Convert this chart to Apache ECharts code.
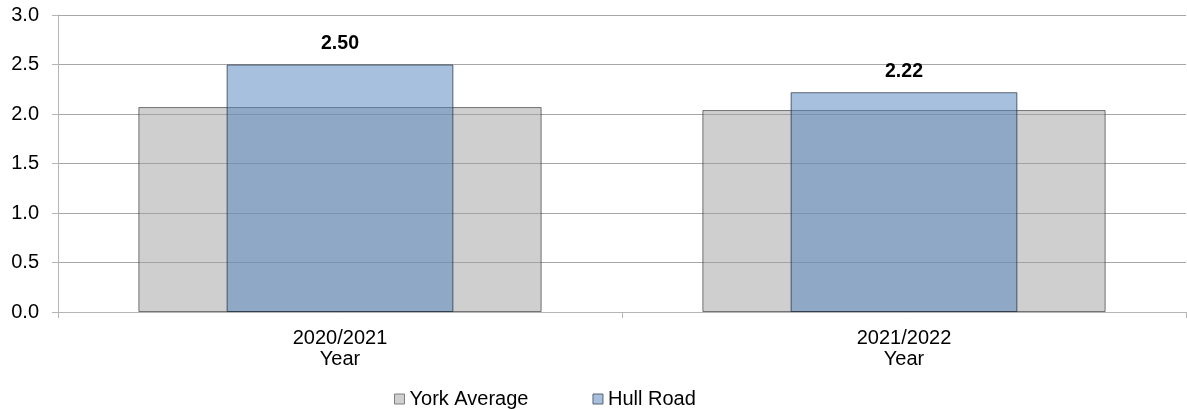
<!DOCTYPE html>
<html>
<head>
<meta charset="utf-8">
<script src="https://cdn.jsdelivr.net/npm/echarts@6/dist/echarts.min.js"></script>
<style>
html,body{margin:0;padding:0;background:#fff;}
#chart{width:1187px;height:409px;}
</style>
</head>
<body>
<div id="chart"></div>
<script>
const categories = ['2020/2021\nYear', '2021/2022\nYear'];
const seriesNames = ['York Average', 'Hull Road'];
const yorkAverage = [2.07, 2.04];
const hullRoad = [2.50, 2.22];
const yMin = 0, yMax = 3, yInterval = 0.5;

const font = 'Liberation Sans, Arial, sans-serif';
const chart = echarts.init(document.getElementById('chart'));
chart.setOption({
  animation: false,
  backgroundColor: '#fff',
  grid: { left: 58, right: 1, top: 15, bottom: 97, containLabel: false },
  legend: {
    left: 389, top: 384,
    itemWidth: 10, itemHeight: 10, itemGap: 64,
    textStyle: { fontFamily: font, fontSize: 20, color: '#000' },
    data: [
      { name: seriesNames[0], icon: 'rect', itemStyle: { color: '#D0D0D0', borderColor: '#7f7f7f', borderWidth: 1, opacity: 1 } },
      { name: seriesNames[1], icon: 'rect', itemStyle: { color: '#A7BFDE', borderColor: '#5a6470', borderWidth: 1, opacity: 1 } }
    ]
  },
  xAxis: [
    {
      type: 'category', data: categories,
      axisLine: { lineStyle: { color: '#B5B5B5', width: 1 } },
      axisTick: { show: true, length: 6, lineStyle: { color: '#B5B5B5' } },
      axisLabel: { fontFamily: font, fontSize: 20, color: '#000', lineHeight: 21, margin: 16 }
    },
    {
      type: 'category', data: categories, show: false
    }
  ],
  yAxis: {
    type: 'value', min: yMin, max: yMax, interval: yInterval,
    axisLine: { show: true, lineStyle: { color: '#B5B5B5', width: 1 } },
    axisTick: { show: true, length: 6, lineStyle: { color: '#B5B5B5' } },
    splitLine: { lineStyle: { color: '#A6A6A6', width: 1 } },
    axisLabel: { fontFamily: font, fontSize: 20, color: '#000', margin: 19,
      formatter: v => v.toFixed(1) }
  },
  series: [
    {
      name: seriesNames[0], type: 'bar', xAxisIndex: 0, data: yorkAverage,
      barWidth: '71.5%',
      itemStyle: { color: 'rgba(160,160,160,0.5)', borderColor: 'rgba(0,0,0,0.5)', borderWidth: 1 },
      z: 2
    },
    {
      name: seriesNames[1], type: 'bar', xAxisIndex: 1, data: hullRoad,
      barWidth: '40.2%',
      itemStyle: { color: 'rgba(79,129,189,0.5)', borderColor: 'rgba(20,30,45,0.65)', borderWidth: 1 },
      label: { show: true, position: 'top', distance: 11, fontFamily: font, fontSize: 19.5,
        fontWeight: 'bold', color: '#000', formatter: p => p.value.toFixed(2) },
      z: 3
    }
  ]
});
</script>
</body>
</html>
